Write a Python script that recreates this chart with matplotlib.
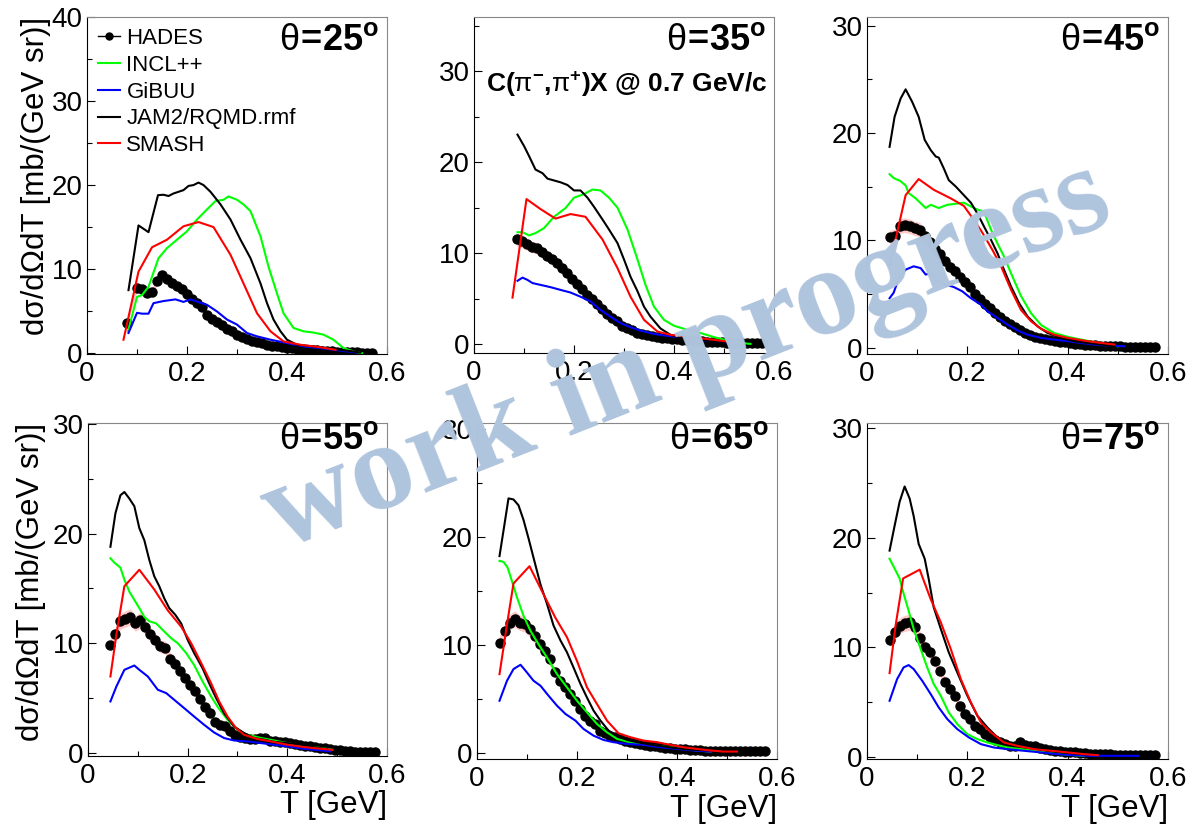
import matplotlib
matplotlib.use('Agg')
import matplotlib.pyplot as plt
from matplotlib.lines import Line2D

plt.rcParams['font.family'] = ['Liberation Sans', 'DejaVu Sans']
plt.rcParams['mathtext.fontset'] = 'custom'
plt.rcParams['mathtext.rm'] = 'Liberation Sans'
plt.rcParams['mathtext.bf'] = 'Liberation Sans:bold'
plt.rcParams['mathtext.it'] = 'Liberation Sans:italic'

angles = [25, 35, 45, 55, 65, 75]
x_ticks = [0, 0.2, 0.4, 0.6]
x_labels = ['0', '0.2', '0.4', '0.6']
y_lims = [(-0.1, 40), (-1.0, 36), (-0.6, 30.8), (-0.3, 30.1), (-0.6, 30.6), (-0.2, 30.5)]
hades_sys = 0.06  # relative size of the pale red band round the data

# ---- HADES data ----
hades_t_25 = [0.08, 0.10, 0.11, 0.12, 0.13, 0.14, 0.15, 0.16, 0.17, 0.18, 0.19, 0.20, 0.21, 0.22,
              0.23, 0.24, 0.25, 0.26, 0.27, 0.28, 0.29, 0.30, 0.31, 0.32, 0.33, 0.34, 0.35, 0.36,
              0.37, 0.38, 0.39, 0.40, 0.41, 0.42, 0.43, 0.44, 0.45, 0.46, 0.47, 0.48, 0.49, 0.50,
              0.51, 0.52, 0.53, 0.54, 0.55, 0.56, 0.57]
hades_25 = [3.6, 7.8, 7.6, 7.2, 7.3, 8.6, 9.3, 8.8, 8.4, 8.0, 7.6, 7.0, 6.4, 6.0,
            5.5, 4.6, 4.1, 3.7, 3.3, 2.9, 2.6, 2.2, 1.9, 1.7, 1.5, 1.3, 1.15, 1.0,
            0.9, 0.8, 0.72, 0.65, 0.58, 0.52, 0.47, 0.42, 0.37, 0.32, 0.28, 0.24, 0.2, 0.17,
            0.14, 0.12, 0.1, 0.08, 0.07, 0.06, 0.05]

hades_t_35 = [0.085, 0.095, 0.105, 0.115, 0.125, 0.135, 0.145, 0.155, 0.165, 0.175,
              0.185, 0.195, 0.205, 0.215, 0.225, 0.235, 0.245, 0.255, 0.265, 0.275,
              0.285, 0.295, 0.305, 0.315, 0.325, 0.335, 0.345, 0.355, 0.365, 0.375,
              0.385, 0.395, 0.405, 0.415, 0.425, 0.435, 0.445, 0.455, 0.465, 0.475,
              0.485, 0.495, 0.505, 0.515, 0.525, 0.535, 0.545, 0.555, 0.565, 0.575]
hades_35 = [11.5, 11.3, 11.0, 10.7, 10.55, 10.1, 9.7, 9.3, 8.9, 8.4,
            7.8, 7.2, 6.6, 6.0, 5.4, 4.9, 4.4, 3.8, 3.3, 2.9,
            2.5, 2.0, 1.7, 1.5, 1.25, 1.1, 1.0, 0.9, 0.8, 0.7,
            0.62, 0.55, 0.5, 0.47, 0.45, 0.4, 0.37, 0.3, 0.26, 0.23,
            0.2, 0.17, 0.15, 0.12, 0.1, 0.08, 0.07, 0.07, 0.07, 0.07]

# the four larger angles share the same T bins
hades_t_wide = [0.045, 0.055, 0.065, 0.075, 0.085, 0.095, 0.105, 0.115, 0.125, 0.135,
                0.145, 0.155, 0.165, 0.175, 0.185, 0.195, 0.205, 0.215, 0.225, 0.235,
                0.245, 0.255, 0.265, 0.275, 0.285, 0.295, 0.305, 0.315, 0.325, 0.335,
                0.345, 0.355, 0.365, 0.375, 0.385, 0.395, 0.405, 0.415, 0.425, 0.435,
                0.445, 0.455, 0.465, 0.475, 0.485, 0.495, 0.505, 0.515, 0.525, 0.535,
                0.545, 0.555, 0.565, 0.575]
hades_45 = [10.3, 10.4, 11.3, 11.4, 11.3, 11.1, 11.0, 10.4, 9.8, 9.2,
            8.7, 8.1, 7.55, 7.1, 6.6, 6.15, 5.6, 5.0, 4.55, 4.1,
            3.7, 3.25, 2.85, 2.5, 2.2, 1.9, 1.6, 1.36, 1.18, 1.03,
            0.9, 0.78, 0.68, 0.6, 0.53, 0.48, 0.43, 0.37, 0.31, 0.27,
            0.23, 0.2, 0.17, 0.14, 0.12, 0.11, 0.1, 0.09, 0.08, 0.07,
            0.06, 0.05, 0.04, 0.03]
hades_55 = [9.8, 10.8, 12.0, 12.2, 12.4, 11.8, 12.1, 11.5, 10.8, 10.3,
            9.7, 9.6, 8.6, 8.1, 7.5, 6.8, 6.2, 5.6, 4.9, 4.2,
            3.6, 2.8, 2.55, 2.45, 2.0, 1.65, 1.45, 1.35, 1.25, 1.25,
            1.3, 1.35, 1.1, 1.05, 1.0, 1.0, 0.85, 0.75, 0.7, 0.63,
            0.58, 0.52, 0.46, 0.4, 0.35, 0.28, 0.22, 0.16, 0.12, 0.1,
            0.09, 0.07, 0.05, 0.03]
hades_65 = [10.2, 11.3, 12.07, 12.4, 12.07, 11.9, 11.45, 10.8, 10.06, 9.44,
            8.67, 7.44, 6.67, 6.05, 5.43, 4.81, 4.04, 3.43, 2.96, 2.65,
            2.04, 1.79, 1.57, 1.42, 1.25, 1.1, 1.02, 0.92, 0.8, 0.72,
            0.65, 0.57, 0.49, 0.45, 0.4, 0.37, 0.34, 0.31, 0.28, 0.24,
            0.21, 0.18, 0.15, 0.13, 0.12, 0.12, 0.12, 0.12, 0.12, 0.12,
            0.12, 0.12, 0.12, 0.12]
hades_75 = [10.7, 11.37, 11.98, 12.2, 12.29, 11.83, 10.9, 10.0, 9.54, 8.78,
            7.87, 6.86, 6.19, 5.6, 4.6, 3.9, 3.45, 2.84, 2.53, 2.07,
            1.77, 1.52, 1.31, 1.16, 1.0, 1.0, 1.31, 1.07, 1.0, 1.0,
            0.8, 0.7, 0.6, 0.55, 0.5, 0.46, 0.43, 0.4, 0.36, 0.33,
            0.3, 0.28, 0.26, 0.24, 0.22, 0.2, 0.18, 0.17, 0.16, 0.15,
            0.15, 0.15, 0.15, 0.15]

# ---- model curves, 25 deg ----
incl_t_25 = [0.082, 0.10, 0.11, 0.123, 0.143, 0.16, 0.18, 0.20, 0.22, 0.24, 0.257, 0.273, 0.283, 0.30,
             0.313, 0.327, 0.347, 0.363, 0.38, 0.393, 0.413, 0.433, 0.453, 0.473, 0.493, 0.513, 0.533, 0.55]
incl_25 = [2.6, 6.7, 6.9, 7.9, 11.3, 12.5, 13.5, 14.5, 15.9, 17.1, 18.1, 18.25, 18.65, 18.25,
           17.7, 16.9, 13.9, 10.3, 7.1, 4.75, 3.0, 2.6, 2.45, 2.2, 1.6, 0.6, 0.2, 0.0]
gibuu_t_25 = [0.083, 0.10, 0.11, 0.123, 0.133, 0.153, 0.177, 0.193, 0.207, 0.227, 0.24,
              0.26, 0.28, 0.30, 0.32, 0.34, 0.367, 0.40, 0.433, 0.467, 0.507, 0.54]
gibuu_25 = [2.4, 4.8, 4.7, 4.7, 5.95, 6.2, 6.4, 6.1, 6.4, 6.0, 5.75,
            4.96, 4.0, 3.4, 2.4, 2.0, 1.6, 1.2, 0.8, 0.6, 0.3, 0.08]
jam_t_25 = [0.083, 0.103, 0.123, 0.142, 0.153, 0.163, 0.173, 0.193, 0.203, 0.213, 0.223, 0.233, 0.247, 0.267,
            0.287, 0.307, 0.327, 0.347, 0.36, 0.373, 0.387, 0.40, 0.42, 0.453, 0.48, 0.507, 0.533, 0.547]
jam_25 = [7.5, 15.2, 14.4, 18.8, 18.85, 18.7, 19.0, 19.4, 19.9, 20.0, 20.3, 20.0, 19.2, 17.7,
          15.9, 13.5, 11.3, 8.3, 5.95, 4.0, 2.6, 1.6, 1.0, 0.8, 0.6, 0.4, 0.2, 0.07]
smash_t_25 = [0.073, 0.103, 0.13, 0.16, 0.193, 0.223, 0.253, 0.287, 0.313, 0.34, 0.367, 0.393, 0.427, 0.467, 0.497]
smash_25 = [1.6, 9.7, 12.6, 13.5, 15.1, 15.6, 15.0, 11.7, 8.3, 4.75, 2.6, 1.4, 1.0, 0.7, 0.4]

# ---- 35 deg ----
incl_t_35 = [0.087, 0.097, 0.11, 0.123, 0.14, 0.16, 0.183, 0.20, 0.22, 0.237, 0.253, 0.27, 0.287,
             0.307, 0.327, 0.343, 0.36, 0.38, 0.40, 0.427, 0.453, 0.48, 0.507, 0.527, 0.553]
incl_35 = [12.3, 12.3, 11.95, 12.2, 12.75, 14.0, 14.96, 16.1, 16.5, 17.0, 16.9, 16.1, 15.0,
           12.6, 9.3, 6.5, 4.1, 2.65, 2.0, 1.55, 1.2, 0.75, 0.37, 0.15, 0.0]
gibuu_t_35 = [0.087, 0.097, 0.107, 0.117, 0.133, 0.153, 0.173, 0.193, 0.213, 0.233, 0.253,
              0.273, 0.293, 0.313, 0.333, 0.36, 0.387, 0.413, 0.44, 0.467, 0.493, 0.517]
gibuu_35 = [6.95, 7.3, 7.05, 6.7, 6.5, 6.25, 5.95, 5.66, 5.2, 4.67, 3.75,
            3.0, 2.3, 1.84, 1.47, 1.1, 0.88, 0.74, 0.5, 0.37, 0.26, 0.07]
jam_t_35 = [0.087, 0.10, 0.11, 0.123, 0.137, 0.147, 0.16, 0.173, 0.187, 0.20, 0.213, 0.227, 0.24, 0.257,
            0.27, 0.287, 0.30, 0.313, 0.327, 0.34, 0.353, 0.373, 0.393, 0.42, 0.453, 0.487, 0.513]
jam_35 = [23.05, 21.8, 20.7, 19.2, 18.8, 18.2, 18.0, 17.8, 17.5, 16.9, 16.9, 16.1, 15.1, 13.7,
          12.6, 11.1, 9.3, 7.4, 5.8, 4.1, 3.0, 1.7, 1.0, 0.6, 0.45, 0.26, 0.15]
smash_t_35 = [0.077, 0.105, 0.133, 0.163, 0.193, 0.223, 0.257, 0.287, 0.313, 0.34, 0.367, 0.393,
              0.427, 0.453, 0.48, 0.507, 0.517]
smash_35 = [5.1, 15.95, 14.85, 13.8, 14.3, 14.0, 11.5, 8.35, 5.2, 2.65, 1.36, 1.0,
            0.8, 0.62, 0.45, 0.26, 0.15]

# ---- 45 deg ----
incl_t_45 = [0.045, 0.053, 0.067, 0.077, 0.083, 0.097, 0.107, 0.117, 0.127, 0.143, 0.16, 0.177, 0.193, 0.207,
             0.223, 0.233, 0.247, 0.26, 0.273, 0.29, 0.307, 0.327, 0.347, 0.373, 0.40, 0.427, 0.453, 0.48, 0.50]
incl_45 = [16.15, 15.8, 15.5, 15.1, 14.4, 13.9, 13.45, 13.0, 13.3, 13.0, 13.3, 13.4, 13.5, 13.15,
           12.8, 12.7, 11.0, 9.7, 8.5, 6.6, 4.8, 3.2, 2.1, 1.36, 1.0, 0.74, 0.5, 0.28, 0.12]
gibuu_t_45 = [0.045, 0.053, 0.063, 0.077, 0.093, 0.107, 0.117, 0.127, 0.14, 0.157, 0.173, 0.19, 0.207,
              0.227, 0.24, 0.26, 0.28, 0.30, 0.32, 0.347, 0.373, 0.40, 0.427, 0.453, 0.48, 0.513]
gibuu_45 = [4.6, 5.1, 6.4, 7.26, 7.57, 7.4, 6.8, 6.95, 6.3, 5.86, 5.64, 5.24, 4.6,
            4.0, 3.38, 2.76, 2.14, 1.6, 1.2, 0.9, 0.74, 0.59, 0.43, 0.28, 0.19, 0.12]
jam_t_45 = [0.045, 0.055, 0.067, 0.077, 0.09, 0.103, 0.115, 0.127, 0.137, 0.143, 0.153, 0.163, 0.177, 0.193, 0.207,
            0.22, 0.233, 0.247, 0.26, 0.273, 0.287, 0.303, 0.32, 0.34, 0.36, 0.387, 0.413, 0.44, 0.467, 0.493]
jam_45 = [18.7, 21.5, 23.2, 24.06, 22.9, 21.5, 19.35, 18.4, 17.8, 17.7, 16.7, 15.6, 15.0, 14.2, 13.5,
          12.5, 11.3, 10.05, 8.8, 7.26, 5.7, 4.15, 2.9, 1.98, 1.36, 0.9, 0.59, 0.43, 0.28, 0.12]
smash_t_45 = [0.045, 0.06, 0.077, 0.103, 0.133, 0.167, 0.193, 0.213, 0.23, 0.25,
              0.267, 0.287, 0.307, 0.327, 0.347, 0.373, 0.40, 0.44, 0.467, 0.493]
smash_45 = [7.6, 10.7, 14.2, 15.7, 14.7, 13.9, 13.2, 11.9, 10.7, 9.1,
            7.6, 5.4, 3.5, 2.45, 1.74, 1.2, 0.9, 0.59, 0.43, 0.28]

# ---- 55 deg ----
incl_t_55 = [0.045, 0.053, 0.065, 0.073, 0.083, 0.093, 0.103, 0.113, 0.123, 0.137, 0.15, 0.167, 0.18, 0.197,
             0.213, 0.23, 0.247, 0.26, 0.28, 0.30, 0.32, 0.347, 0.373, 0.40, 0.433, 0.467, 0.49]
incl_55 = [17.75, 17.35, 16.9, 15.8, 14.7, 13.95, 13.2, 12.4, 12.0, 11.8, 11.2, 10.45, 10.0, 9.1,
           8.0, 6.5, 5.14, 4.2, 3.0, 2.1, 1.64, 1.34, 1.12, 0.88, 0.58, 0.43, 0.27]
gibuu_t_55 = [0.045, 0.057, 0.073, 0.093, 0.103, 0.12, 0.14, 0.157, 0.173, 0.193, 0.213,
              0.233, 0.253, 0.273, 0.293, 0.32, 0.347, 0.373, 0.40, 0.433, 0.467, 0.487]
gibuu_55 = [4.68, 6.05, 7.57, 7.96, 7.57, 6.96, 5.75, 5.44, 4.83, 4.07, 3.3,
            2.55, 1.85, 1.34, 1.12, 1.03, 0.88, 0.73, 0.58, 0.36, 0.21, 0.12]
jam_t_55 = [0.045, 0.055, 0.065, 0.073, 0.083, 0.093, 0.103, 0.113, 0.123, 0.133, 0.143, 0.153, 0.163, 0.175, 0.187,
            0.20, 0.213, 0.23, 0.243, 0.257, 0.273, 0.293, 0.313, 0.333, 0.353, 0.373, 0.40, 0.427, 0.453, 0.48]
jam_55 = [18.8, 21.85, 23.5, 23.8, 23.2, 22.5, 20.5, 19.4, 17.6, 16.1, 15.2, 14.1, 13.2, 12.6, 11.8,
          10.3, 9.1, 7.7, 6.35, 5.0, 3.6, 2.4, 1.8, 1.34, 1.19, 1.0, 0.88, 0.73, 0.5, 0.33]
smash_t_55 = [0.045, 0.057, 0.073, 0.103, 0.133, 0.16, 0.187, 0.207, 0.227, 0.247,
              0.263, 0.28, 0.297, 0.313, 0.34, 0.367, 0.40, 0.433, 0.467, 0.49]
smash_55 = [6.96, 10.8, 15.2, 16.7, 14.9, 13.0, 11.5, 10.0, 8.2, 6.35,
            4.7, 3.3, 2.25, 1.64, 1.25, 1.03, 0.73, 0.52, 0.36, 0.27]

# ---- 65 deg ----
incl_t_65 = [0.045, 0.053, 0.061, 0.07, 0.08, 0.093, 0.107, 0.123, 0.14, 0.16, 0.18, 0.20,
             0.22, 0.24, 0.26, 0.28, 0.30, 0.327, 0.353, 0.387, 0.413, 0.44, 0.467]
incl_65 = [17.8, 17.7, 17.2, 15.9, 14.4, 12.7, 11.3, 10.06, 8.83, 7.28, 6.05, 4.81,
           3.73, 2.65, 1.88, 1.27, 1.02, 0.8, 0.65, 0.49, 0.34, 0.19, 0.09]
gibuu_t_65 = [0.045, 0.06, 0.073, 0.087, 0.097, 0.113, 0.127, 0.143, 0.16, 0.177, 0.197,
              0.213, 0.233, 0.253, 0.273, 0.30, 0.333, 0.367, 0.40, 0.433, 0.467]
gibuu_65 = [4.81, 6.67, 7.75, 8.15, 7.6, 6.67, 6.2, 5.28, 4.35, 3.58, 2.96,
            2.19, 1.57, 1.17, 0.96, 0.8, 0.71, 0.49, 0.34, 0.19, 0.09]
jam_t_65 = [0.045, 0.055, 0.063, 0.073, 0.083, 0.093, 0.103, 0.113, 0.127, 0.14, 0.153, 0.167, 0.18, 0.193,
            0.207, 0.22, 0.233, 0.247, 0.263, 0.28, 0.30, 0.32, 0.347, 0.373, 0.40, 0.433, 0.467]
jam_65 = [18.24, 21.2, 23.6, 23.5, 22.96, 21.6, 19.9, 18.1, 15.6, 13.8, 11.8, 10.4, 9.3, 7.9,
          6.36, 5.1, 3.9, 2.96, 2.04, 1.57, 1.17, 0.96, 0.74, 0.56, 0.4, 0.25, 0.19]
smash_t_65 = [0.045, 0.06, 0.073, 0.105, 0.133, 0.157, 0.18, 0.20, 0.22, 0.24, 0.26,
              0.283, 0.307, 0.333, 0.36, 0.387, 0.413, 0.44, 0.467, 0.493, 0.52]
smash_65 = [7.28, 11.9, 15.7, 17.3, 14.7, 12.5, 10.7, 8.5, 6.05, 4.5, 2.96,
            1.79, 1.42, 1.11, 0.96, 0.71, 0.49, 0.34, 0.19, 0.09, 0.09]

# ---- 75 deg ----
incl_t_75 = [0.045, 0.055, 0.065, 0.073, 0.083, 0.093, 0.107, 0.12, 0.133, 0.147, 0.163, 0.18,
             0.20, 0.22, 0.24, 0.26, 0.28, 0.307, 0.333, 0.36, 0.387, 0.413, 0.433]
incl_75 = [18.1, 17.2, 16.3, 14.9, 13.35, 11.68, 9.85, 8.17, 6.65, 5.58, 4.05, 2.99,
           2.07, 1.62, 1.31, 1.07, 0.85, 0.7, 0.55, 0.4, 0.24, 0.15, 0.09]
gibuu_t_75 = [0.045, 0.06, 0.073, 0.083, 0.093, 0.11, 0.127, 0.143, 0.16, 0.18, 0.203,
              0.227, 0.253, 0.28, 0.313, 0.347, 0.38, 0.413, 0.44, 0.48, 0.54]
gibuu_75 = [5.12, 7.1, 8.17, 8.38, 8.02, 6.95, 5.73, 4.51, 3.45, 2.53, 1.77,
            1.16, 0.85, 0.7, 0.55, 0.4, 0.24, 0.15, 0.09, 0.09, 0.09]
jam_t_75 = [0.045, 0.055, 0.065, 0.075, 0.085, 0.093, 0.103, 0.115, 0.123, 0.133, 0.147, 0.163,
            0.18, 0.20, 0.22, 0.24, 0.26, 0.28, 0.307, 0.333, 0.36, 0.387, 0.413, 0.44]
jam_75 = [18.84, 21.1, 23.3, 24.7, 23.6, 22.0, 19.45, 18.1, 16.25, 13.66, 11.7, 9.54,
          7.7, 5.58, 3.75, 2.68, 1.77, 1.31, 1.0, 0.76, 0.55, 0.4, 0.3, 0.21]
smash_t_75 = [0.045, 0.057, 0.072, 0.105, 0.127, 0.147, 0.167, 0.187, 0.207,
              0.227, 0.247, 0.273, 0.30, 0.333, 0.367, 0.40, 0.433, 0.46]
smash_75 = [7.65, 12.0, 16.3, 17.1, 14.4, 12.3, 9.85, 7.1, 4.97,
            3.14, 2.23, 1.31, 1.0, 0.7, 0.55, 0.4, 0.24, 0.15]

hades = {25: (hades_t_25, hades_25), 35: (hades_t_35, hades_35), 45: (hades_t_wide, hades_45),
         55: (hades_t_wide, hades_55), 65: (hades_t_wide, hades_65), 75: (hades_t_wide, hades_75)}
models = {
    25: [(incl_t_25, incl_25), (gibuu_t_25, gibuu_25), (jam_t_25, jam_25), (smash_t_25, smash_25)],
    35: [(incl_t_35, incl_35), (gibuu_t_35, gibuu_35), (jam_t_35, jam_35), (smash_t_35, smash_35)],
    45: [(incl_t_45, incl_45), (gibuu_t_45, gibuu_45), (jam_t_45, jam_45), (smash_t_45, smash_45)],
    55: [(incl_t_55, incl_55), (gibuu_t_55, gibuu_55), (jam_t_55, jam_55), (smash_t_55, smash_55)],
    65: [(incl_t_65, incl_65), (gibuu_t_65, gibuu_65), (jam_t_65, jam_65), (smash_t_65, smash_65)],
    75: [(incl_t_75, incl_75), (gibuu_t_75, gibuu_75), (jam_t_75, jam_75), (smash_t_75, smash_75)],
}
model_names = ['INCL++', 'GiBUU', 'JAM2/RQMD.rmf', 'SMASH']
model_colors = ['#00ff00', '#0000ff', 'black', '#ff0000']

# axes boxes in pixels: left, top, right, bottom
W, H = 1189, 836
boxes = [(87, 17, 387, 354), (474, 17, 774, 353), (867, 17, 1168, 354),
         (88, 423, 387, 756), (477, 423, 777, 759), (867, 423, 1168, 759)]

fig = plt.figure(figsize=(W / 100, H / 100), dpi=100)

for i, ang in enumerate(angles):
    l, t, r, b = boxes[i]
    ax = fig.add_axes([l / W, 1 - b / H, (r - l) / W, (b - t) / H])

    ht, hy = hades[ang]
    lo = [v * (1 - hades_sys) for v in hy]
    hi = [v * (1 + hades_sys) for v in hy]
    ax.fill_between(ht, lo, hi, color='#ff9090', alpha=0.5, lw=0, zorder=1)
    ax.plot(ht, hy, 'o', color='black', ms=6.5, zorder=2)
    for (mt, my), c in zip(models[ang], model_colors):
        ax.plot(mt, my, color=c, lw=1.5, zorder=3)

    ax.set_xlim(0, 0.6)
    ax.set_ylim(*y_lims[i])
    ax.set_xticks(x_ticks)
    ax.set_xticklabels(x_labels)
    ax.set_xticks([0.1, 0.3, 0.5], minor=True)
    top = int(y_lims[i][1] // 10) * 10
    ax.set_yticks(range(0, top + 1, 10))
    ax.set_yticks(range(5, int(y_lims[i][1]) + 1, 10), minor=True)
    ax.tick_params(which='both', direction='in', labelsize=20, top=False, right=False)
    ax.tick_params(axis='x', which='both', pad=5)
    ax.tick_params(axis='y', which='both', pad=3)
    ax.tick_params(which='major', length=6, width=0.8)
    ax.tick_params(which='minor', length=3.5, width=0.8)
    for s in ['top', 'right']:
        ax.spines[s].set_color('#888888')
        ax.spines[s].set_linewidth(0.8)

    ypos = 0.93 if i < 3 else 0.95
    ax.text(0.975, ypos, r'$\mathrm{\theta}\!\mathbf{=}\!\mathbf{%d}^{\mathbf{o}}$' % ang,
            transform=ax.transAxes, ha='right', va='center', fontsize=26)

    if i in (0, 3):
        ax.set_ylabel('dσ/dΩdT [mb/(GeV sr)]', fontsize=22.5, loc='top')
        ax.yaxis.set_label_coords(-0.12 if i == 0 else -0.14, 1.0)
    if i >= 3:
        ax.set_xlabel('T [GeV]', fontsize=22.5, loc='right')
        ax.xaxis.set_label_coords(1.0, -0.103)

    if i == 1:
        ax.text(0.04, 0.80, r'$\mathbf{C(}\mathrm{\pi}^{\mathbf{-}}\mathbf{,}\mathrm{\pi}^{\mathbf{+}}'
                r'\mathbf{)X\ @\ 0.7\ GeV/c}$', transform=ax.transAxes, ha='left', va='center', fontsize=19)

    if i == 0:
        handles = [Line2D([], [], color='black', lw=1, marker='o', ms=5)]
        handles += [Line2D([], [], color=c, lw=1.5) for c in model_colors]
        ax.legend(handles, ['HADES'] + model_names, loc='upper left', bbox_to_anchor=(0.035, 0.967),
                  frameon=False, fontsize=16, handlelength=1.0, handletextpad=0.3,
                  labelspacing=0.26, borderpad=0, borderaxespad=0)

fig.text(0.578, 0.572, 'work in progress', rotation=21.5, rotation_mode='anchor',
         ha='center', va='center', fontsize=90, fontweight='bold', family='Liberation Serif',
         color='#afc4dd', zorder=10)

fig.savefig('out.png', dpi=100)
